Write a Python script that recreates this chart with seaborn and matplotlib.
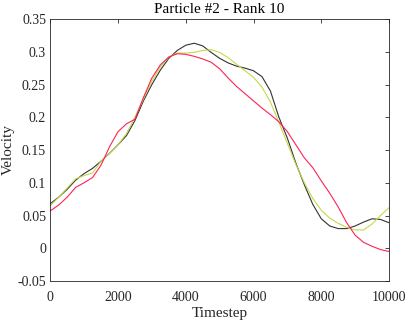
import matplotlib
matplotlib.use("Agg")
import matplotlib.pyplot as plt
import seaborn as sns
import pandas as pd

timestep = list(range(0, 10001, 250))

black = [0.068, 0.078, 0.090, 0.104, 0.114, 0.122, 0.133, 0.145, 0.158, 0.172,
         0.195, 0.225, 0.250, 0.272, 0.290, 0.302, 0.310, 0.313, 0.309, 0.299,
         0.290, 0.283, 0.278, 0.275, 0.271, 0.262, 0.240, 0.200, 0.168, 0.130,
         0.097, 0.067, 0.045, 0.034, 0.030, 0.030, 0.034, 0.040, 0.045, 0.044,
         0.039]
yellow = [0.065, 0.078, 0.092, 0.106, 0.111, 0.115, 0.133, 0.145, 0.158, 0.175,
          0.200, 0.228, 0.255, 0.277, 0.292, 0.298, 0.298, 0.299, 0.302, 0.303,
          0.299, 0.291, 0.281, 0.271, 0.261, 0.246, 0.223, 0.192, 0.160, 0.128,
          0.100, 0.076, 0.058, 0.046, 0.038, 0.032, 0.028, 0.028, 0.037, 0.050,
          0.062]
red = [0.057, 0.066, 0.078, 0.093, 0.100, 0.108, 0.127, 0.155, 0.178, 0.190,
       0.197, 0.230, 0.260, 0.280, 0.292, 0.297, 0.296, 0.293, 0.289, 0.284,
       0.274, 0.260, 0.247, 0.236, 0.225, 0.214, 0.204, 0.193, 0.178, 0.158,
       0.138, 0.123, 0.103, 0.084, 0.063, 0.039, 0.020, 0.009, 0.003, -0.002,
       -0.005]

series = {"black": black, "yellow": yellow, "red": red}
colors = {"black": "#333333", "yellow": "#c5d84a", "red": "#ff2255"}

df = pd.concat([pd.DataFrame({"Timestep": timestep, "Velocity": v, "run": k})
                for k, v in series.items()])

sns.set_style("white")
plt.rcParams['font.family'] = ['Liberation Serif', 'DejaVu Serif']

fig = plt.figure(figsize=(4.07, 3.21), dpi=100)
ax = fig.add_axes([0.1235, 0.1246, 0.8323, 0.8162])

sns.lineplot(data=df, x="Timestep", y="Velocity", hue="run", palette=colors,
             linewidth=0.8, legend=False, ax=ax)

ax.set_xlim(0, 10000)
ax.set_ylim(-0.05, 0.35)
ax.set_xticks([0, 2000, 4000, 6000, 8000, 10000])
ax.set_yticks([-0.05, 0, 0.05, 0.1, 0.15, 0.2, 0.25, 0.3, 0.35])
ax.set_yticklabels(["-0.05", "0", "0.05", "0.1", "0.15", "0.2", "0.25", "0.3", "0.35"])
ax.tick_params(direction="in", length=3, width=0.6, color="#262626",
               labelsize=10, top=True, right=True, labelcolor="#262626")
ax.tick_params(axis="x", pad=7)
ax.tick_params(axis="y", pad=3)
for s in ax.spines.values():
    s.set_color("#262626")
    s.set_linewidth(0.6)

ax.set_xlabel("Timestep", fontsize=11, labelpad=2, color="#262626")
ax.set_ylabel("Velocity", fontsize=11, labelpad=2, color="#262626")
ax.set_title("Particle #2 - Rank 10", fontsize=11, pad=4, color="#000000")

fig.savefig("out.png", dpi=100)
